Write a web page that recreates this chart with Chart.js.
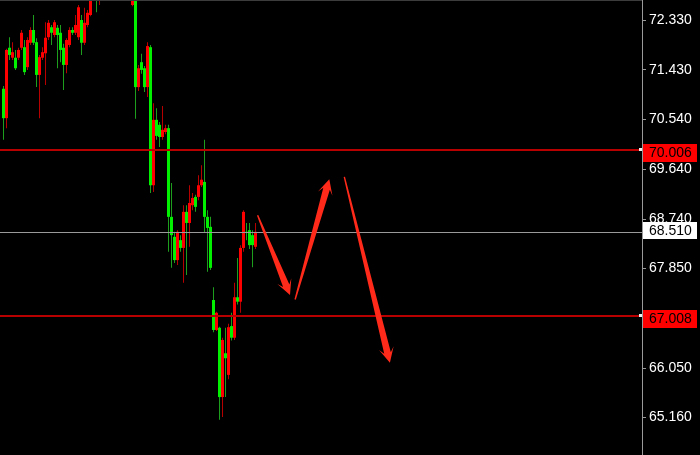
<!DOCTYPE html>
<html>
<head>
<meta charset="utf-8">
<script src="https://cdn.jsdelivr.net/npm/chart.js@4/dist/chart.umd.min.js"></script>
<style>
  html, body { margin: 0; padding: 0; background: #000; }
  canvas { display: block; }
</style>
</head>
<body>
<canvas id="chart" width="700" height="455"></canvas>
<script>
// Candle prices, one entry per bar (oldest first)
const OPEN = [
  71.09, 70.56, 71.83, 71.65, 71.65, 71.65, 71.83, 71.84, 71.48, 71.92,
  72.15, 71.93, 71.34, 71.65, 71.73, 72.02, 72.20, 72.06, 72.19, 72.10,
  71.83, 71.52, 71.88, 72.15, 72.10, 72.02, 72.33, 71.92, 72.24, 72.42,
  72.75, 72.95, 72.75, 73.05, 73.15, 73.30, 73.10, 73.20, 73.35, 73.25,
  73.05, 73.15, 72.90, 72.60, 72.95, 71.12, 71.57, 71.46, 71.12, 71.84,
  69.35, 70.53, 70.44, 70.22, 70.31, 70.38, 68.78, 68.42, 68.00, 68.36,
  68.22, 68.87, 68.67, 68.99, 69.14, 69.14, 69.35, 69.41, 68.78, 68.60,
  67.28, 66.74, 66.78, 65.53, 66.32, 65.93, 66.81, 66.60, 67.33, 67.25,
  68.22, 68.51, 68.54, 68.45, 68.24
];
const HIGH = [
  71.14, 71.81, 72.02, 71.93, 71.79, 71.83, 72.15, 71.97, 72.02, 72.20,
  72.42, 72.00, 71.70, 71.84, 72.29, 72.33, 72.24, 72.33, 72.24, 72.24,
  71.90, 72.00, 72.20, 72.20, 72.42, 72.60, 72.42, 72.55, 72.51, 72.80,
  73.02, 73.00, 73.10, 73.20, 73.40, 73.35, 73.25, 73.45, 73.50, 73.30,
  73.20, 73.25, 73.00, 73.00, 73.00, 71.52, 71.72, 71.50, 71.93, 71.88,
  70.83, 70.74, 70.49, 70.78, 70.44, 70.44, 69.39, 68.51, 68.54, 68.45,
  68.99, 68.99, 69.35, 69.21, 69.18, 69.53, 69.71, 70.17, 68.90, 68.78,
  67.51, 67.07, 66.80, 66.60, 66.78, 66.85, 67.05, 67.59, 68.04, 68.27,
  68.90, 68.67, 68.67, 68.54, 68.67
];
const LOW = [
  70.17, 70.38, 71.61, 71.61, 71.43, 71.61, 71.79, 71.34, 71.43, 71.88,
  71.88, 71.12, 70.56, 71.61, 71.16, 71.97, 71.88, 72.02, 71.46, 71.57,
  71.07, 71.37, 71.84, 72.06, 72.06, 71.97, 71.70, 71.88, 72.20, 72.40,
  72.72, 72.47, 72.60, 72.95, 73.05, 73.00, 72.90, 73.10, 73.15, 72.95,
  72.85, 72.80, 72.72, 72.58, 70.55, 71.05, 71.36, 71.03, 70.94, 69.21,
  69.23, 70.17, 70.04, 70.17, 70.27, 68.15, 67.86, 67.95, 67.91, 68.15,
  67.59, 67.73, 68.24, 68.90, 68.87, 69.08, 69.32, 68.49, 67.79, 67.82,
  66.70, 66.72, 65.12, 65.17, 65.53, 65.85, 66.55, 66.56, 67.20, 67.05,
  68.15, 68.36, 68.20, 67.87, 68.20
];
const CLOSE = [
  70.56, 71.79, 71.70, 71.75, 71.46, 71.79, 72.10, 71.39, 71.97, 72.15,
  71.92, 71.34, 71.66, 71.75, 72.01, 72.28, 72.10, 72.29, 72.06, 71.79,
  71.52, 71.97, 72.15, 72.10, 72.24, 72.56, 71.92, 72.28, 72.46, 72.75,
  72.98, 72.75, 73.05, 73.15, 73.30, 73.10, 73.20, 73.35, 73.25, 73.05,
  73.15, 72.90, 72.75, 72.92, 71.12, 71.46, 71.43, 71.12, 71.86, 69.35,
  70.53, 70.24, 70.22, 70.35, 70.38, 68.78, 68.45, 68.00, 68.51, 68.22,
  68.87, 68.67, 69.03, 69.12, 68.96, 69.35, 69.45, 68.78, 68.58, 67.86,
  66.74, 67.05, 65.53, 66.56, 66.23, 66.79, 66.60, 67.33, 67.25, 68.22,
  68.87, 68.49, 68.27, 68.27, 68.51
];

// Price axis
const Y_TICKS = [72.330, 71.430, 70.540, 69.640, 68.740, 67.850, 66.950, 66.050, 65.160];
const Y_MIN = 64.485;
const Y_MAX = 72.691;

// Horizontal price levels
const LEVEL_PRICES = [70.006, 68.510, 67.008];
const LEVEL_KINDS = ['line', 'bid', 'line'];

// Hand-drawn arrows: [fromBar, fromPrice, toBar, toPrice]
const ARROWS = [
  [84.7, 68.81, 95.5, 67.37],
  [97.2, 67.29, 108.6, 69.46],
  [113.6, 69.50, 128.8, 66.15]
];

const BULL = '#ff0000', BEAR = '#00f000';
const BULL_WICK = '#b80000', BEAR_WICK = '#1ea01e';
const FONT = '14px "Liberation Sans", Arial, sans-serif';

const LEVEL_STYLE = {
  line: { stroke: '#b80000', width: 2, boxBg: '#ff0000', boxFg: '#000000', shift: -5, h: 18, anchor: true },
  bid:  { stroke: '#9a9a9a', width: 1, boxBg: '#ffffff', boxFg: '#000000', shift: -10, h: 17, anchor: false }
};

const bars = OPEN.map((_, i) => i);
const rising = i => CLOSE[i] >= OPEN[i];

// Tapered arrow: thin tail, widening shaft, barbed head
function drawArrow(ctx, x0, y0, x1, y1) {
  const dx = x1 - x0, dy = y1 - y0, len = Math.hypot(dx, dy);
  const ux = dx / len, uy = dy / len, nx = -uy, ny = ux;
  const head = 15, notch = 10, hw = 7.5, sw = 3.4, tw = 0.7;
  const pt = (a, b) => [x1 - ux * a + nx * b, y1 - uy * a + ny * b];
  ctx.beginPath();
  ctx.moveTo(x0 + nx * tw, y0 + ny * tw);
  ctx.lineTo(...pt(notch, sw));
  ctx.lineTo(...pt(head, hw));
  ctx.lineTo(x1, y1);
  ctx.lineTo(...pt(head, -hw));
  ctx.lineTo(...pt(notch, -sw));
  ctx.lineTo(x0 - nx * tw, y0 - ny * tw);
  ctx.closePath();
  ctx.fill();
}

const overlay = {
  id: 'overlay',
  beforeDraw(chart) {
    const { ctx, width, height } = chart;
    ctx.save();
    ctx.fillStyle = '#000';
    ctx.fillRect(0, 0, width, height);
    ctx.restore();
  },
  afterDatasetsDraw(chart) {
    const { ctx, chartArea: a, scales: { x, y } } = chart;
    ctx.save();
    LEVEL_PRICES.forEach((p, k) => {
      const st = LEVEL_STYLE[LEVEL_KINDS[k]];
      const py = Math.round(y.getPixelForValue(p));
      ctx.fillStyle = st.stroke;
      ctx.fillRect(a.left, py, a.right - a.left, st.width);
    });
    ctx.fillStyle = '#ff2a1a';
    ARROWS.forEach(([b0, p0, b1, p1]) => {
      drawArrow(ctx, x.getPixelForValue(b0), y.getPixelForValue(p0),
                x.getPixelForValue(b1), y.getPixelForValue(p1));
    });
    ctx.restore();
  },
  afterDraw(chart) {
    const { ctx, chartArea: a, scales: { y } } = chart;
    ctx.save();
    ctx.strokeStyle = '#3c3c3c';
    ctx.beginPath();
    ctx.moveTo(a.left, 0.5);
    ctx.lineTo(a.right, 0.5);
    ctx.stroke();
    ctx.font = FONT;
    ctx.textBaseline = 'middle';
    ctx.textAlign = 'left';
    LEVEL_PRICES.forEach((p, k) => {
      const st = LEVEL_STYLE[LEVEL_KINDS[k]];
      const py = Math.round(y.getPixelForValue(p));
      const top = py + st.shift;
      ctx.fillStyle = st.boxBg;
      ctx.fillRect(a.right + 1, top, 54, st.h);
      ctx.fillStyle = st.boxFg;
      ctx.fillText(p.toFixed(3), a.right + 7, top + st.h / 2 + 0.5);
      if (st.anchor) {
        ctx.fillStyle = '#f0f0f0';
        ctx.fillRect(a.right - 3, py - 1, 3, 3);
      }
    });
    ctx.restore();
  }
};

new Chart(document.getElementById('chart'), {
  type: 'bar',
  data: {
    datasets: [
      {
        label: 'body',
        data: bars.map(i => ({ x: i, y: [OPEN[i], CLOSE[i]] })),
        backgroundColor: bars.map(i => rising(i) ? BULL : BEAR),
        barThickness: 3,
        minBarLength: 1,
        grouped: false,
        borderWidth: 0,
        inflateAmount: 0,
        order: 0
      },
      {
        label: 'wick',
        data: bars.map(i => ({ x: i, y: [LOW[i], HIGH[i]] })),
        backgroundColor: bars.map(i => rising(i) ? BULL_WICK : BEAR_WICK),
        barThickness: 1,
        grouped: false,
        borderWidth: 0,
        inflateAmount: 0,
        order: 1
      }
    ]
  },
  options: {
    responsive: false,
    animation: false,
    devicePixelRatio: 1,
    layout: { padding: 0 },
    plugins: { legend: { display: false }, tooltip: { enabled: false } },
    scales: {
      x: {
        type: 'linear',
        display: false,
        offset: false,
        min: -1.17,
        max: 212.83
      },
      y: {
        type: 'linear',
        position: 'right',
        min: Y_MIN,
        max: Y_MAX,
        afterBuildTicks: s => { s.ticks = Y_TICKS.map(v => ({ value: v })); },
        afterFit: s => { s.width = 58; s.paddingTop = 0; s.paddingBottom = 0; },
        ticks: {
          color: '#ffffff',
          font: { family: '"Liberation Sans", Arial, sans-serif', size: 14 },
          padding: 3,
          autoSkip: false,
          callback: v => Number(v).toFixed(3)
        },
        grid: { drawOnChartArea: false, drawTicks: true, tickLength: 4, color: '#9a9a9a', lineWidth: 1 },
        border: { display: true, color: '#9a9a9a', width: 1 }
      }
    }
  },
  plugins: [overlay]
});
</script>
</body>
</html>
